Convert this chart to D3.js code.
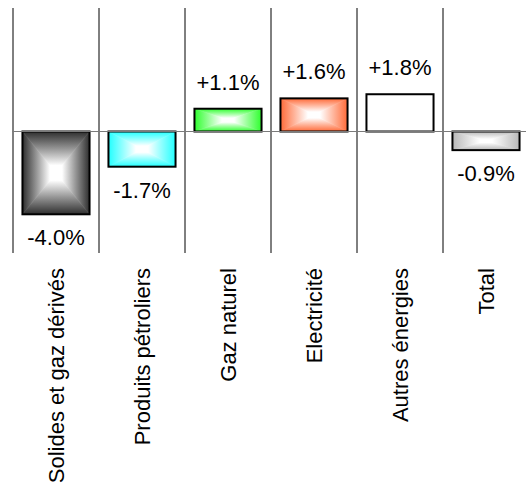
<!DOCTYPE html>
<html>
<head>
<meta charset="utf-8">
<script src="https://cdn.jsdelivr.net/npm/d3@7"></script>
<style>
  html, body { margin: 0; padding: 0; background: #fff; }
  svg { display: block; }
  text { font-family: Arial, "Liberation Sans", sans-serif; fill: #000; }
</style>
</head>
<body>
<svg id="chart" width="526" height="486"></svg>
<script>
// Evolution by energy type (%)
const categories = ["Solides et gaz dérivés", "Produits pétroliers", "Gaz naturel", "Electricité", "Autres énergies", "Total"];
const values = [-4.0, -1.7, 1.1, 1.6, 1.8, -0.9];
const edgeColors = ["#2e2e2e", "#22ffff", "#2eff2e", "#ff6a38", "#ffffff", "#b8b8b8"];

const svg = d3.select("#chart");
const W = 526, H = 486;

const x = d3.scaleBand()
  .domain(categories)
  .range([13, 13 + 86 * 6])
  .paddingInner(0.22)
  .paddingOuter(0.11);

const unit = 20.7, zeroY = 131.5;
const y = d3.scaleLinear()
  .domain([-4.0, 1.8])
  .range([zeroY + 4.0 * unit, zeroY - 1.8 * unit]);

// Box-shaped gradients: each bar is split into four triangles that fade to white at the centre
const defs = svg.append("defs");
const dirs = {
  top:    { x1: 0, y1: 0, x2: 0, y2: 1 },
  bottom: { x1: 0, y1: 1, x2: 0, y2: 0 },
  left:   { x1: 0, y1: 0, x2: 1, y2: 0 },
  right:  { x1: 1, y1: 0, x2: 0, y2: 0 }
};
edgeColors.forEach((c, i) => {
  const mid = d3.interpolateRgb(c, "#ffffff")(0.5);
  Object.entries(dirs).forEach(([k, d]) => {
    const g = defs.append("linearGradient")
      .attr("id", `g${i}-${k}`)
      .attr("x1", d.x1).attr("y1", d.y1).attr("x2", d.x2).attr("y2", d.y2);
    g.append("stop").attr("offset", 0).attr("stop-color", c);
    g.append("stop").attr("offset", 0.42).attr("stop-color", mid);
    g.append("stop").attr("offset", 0.82).attr("stop-color", "#ffffff");
    g.append("stop").attr("offset", 1).attr("stop-color", "#ffffff");
  });
});

// Column separators
const sepX = d3.range(categories.length).map(i => x.step() * i + x.range()[0]);
svg.append("g").selectAll("line")
  .data(sepX)
  .join("line")
  .attr("x1", d => d).attr("x2", d => d)
  .attr("y1", 8).attr("y2", 253)
  .attr("stroke", "#000").attr("stroke-width", 1);

// Bars
const bars = svg.append("g").selectAll("g")
  .data(values.map((v, i) => ({ v, i, cat: categories[i] })))
  .join("g");

bars.each(function (d) {
  const g = d3.select(this);
  const x0 = x(d.cat), x1 = x0 + x.bandwidth();
  const yt = Math.min(y(d.v), y(0)), yb = Math.max(y(d.v), y(0));
  const cx = (x0 + x1) / 2, cy = (yt + yb) / 2;
  const tri = [
    ["top",    [[x0, yt], [x1, yt], [cx, cy]]],
    ["bottom", [[x0, yb], [x1, yb], [cx, cy]]],
    ["left",   [[x0, yt], [x0, yb], [cx, cy]]],
    ["right",  [[x1, yt], [x1, yb], [cx, cy]]]
  ];
  tri.forEach(([k, pts]) => {
    g.append("polygon")
      .attr("points", pts.map(p => p.join(",")).join(" "))
      .attr("fill", `url(#g${d.i}-${k})`)
      .attr("stroke", `url(#g${d.i}-${k})`)
      .attr("stroke-width", 0.6);
  });
  g.append("rect")
    .attr("x", x0).attr("y", yt)
    .attr("width", x.bandwidth()).attr("height", yb - yt)
    .attr("fill", "none").attr("stroke", "#000").attr("stroke-width", 2);
});

// Zero line
svg.append("line")
  .attr("x1", 12).attr("x2", W)
  .attr("y1", y(0)).attr("y2", y(0))
  .attr("stroke", "#7a7a7a").attr("stroke-width", 1.2);

// Value labels
const fmt = v => (v > 0 ? "+" : "") + v.toFixed(1) + "%";
svg.append("g").selectAll("text")
  .data(values.map((v, i) => ({ v, cat: categories[i] })))
  .join("text")
  .attr("x", d => x(d.cat) + x.bandwidth() / 2)
  .attr("y", d => d.v >= 0 ? y(d.v) - 19 : y(d.v) + 31)
  .attr("text-anchor", "middle")
  .attr("font-size", 22)
  .text(d => fmt(d.v));

// Category labels (vertical)
svg.append("g").selectAll("text")
  .data(categories)
  .join("text")
  .attr("transform", d => `translate(${x(d) + x.bandwidth() / 2 + 8},268) rotate(-90)`)
  .attr("text-anchor", "end")
  .attr("font-size", 22)
  .text(d => d);
</script>
</body>
</html>
